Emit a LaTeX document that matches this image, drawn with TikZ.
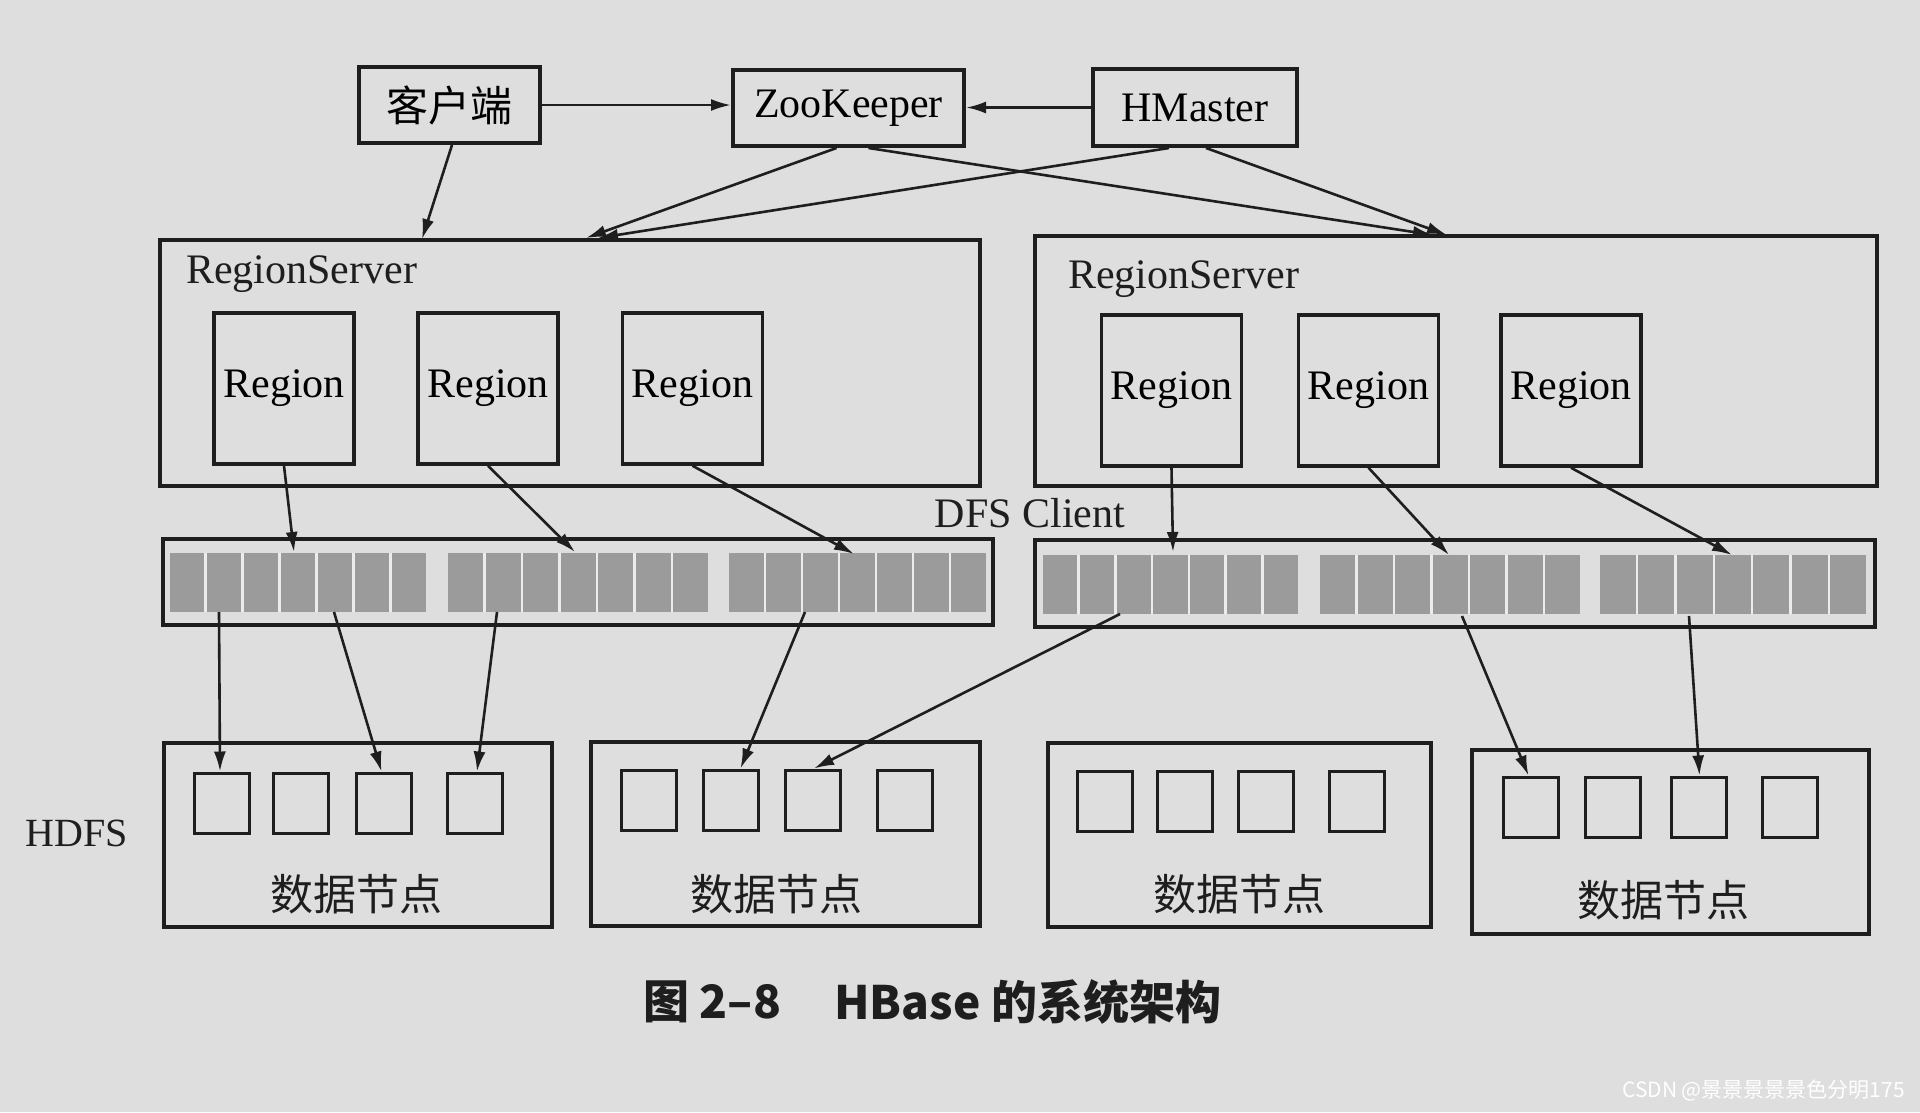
\documentclass[tikz,border=0pt]{standalone}
\usepackage{fontspec}
\setmainfont{Liberation Serif}
\newfontfamily\cjk{Noto Sans CJK SC}
\usetikzlibrary{arrows.meta,calc}
\definecolor{bgc}{RGB}{222,222,222}
\definecolor{ink}{RGB}{30,30,30}
\definecolor{blockgray}{RGB}{155,155,155}
\definecolor{gapc}{RGB}{236,236,236}
\newcommand\grayblocks[4]{%
  \fill[gapc] (#1,#3) rectangle (#2,#4);
  \pgfmathsetmacro\bw{(#2-#1-6*2.5)/7}%
  \foreach \i in {0,...,6}{%
    \fill[blockgray] ({#1+\i*(\bw+2.5)},#3) rectangle ++({\bw},{#4-#3});
  }}
\begin{document}
\begin{tikzpicture}[x=1pt,y=-1pt,
  bx/.style={draw=ink, line width=4pt, inner sep=0pt, font=\fontsize{42}{48}\selectfont},
  regbox/.style={bx, line width=3.5pt, minimum width=140pt, minimum height=151pt},
  band/.style={draw=ink, line width=4pt, inner sep=0pt},
  dnbox/.style={draw=ink, line width=4pt, inner sep=0pt, minimum height=184pt},
  sbox/.style={draw=ink, line width=3pt, inner sep=0pt, minimum width=55pt, minimum height=60pt},
  lbl/.style={inner sep=0pt, text=ink, font=\fontsize{42}{48}\selectfont},
  cjklbl/.style={inner sep=0pt, text=ink, font=\cjk\fontsize{43}{48}\selectfont},
  arr/.style={draw=ink, line width=2.6pt, -{Latex[length=20pt,width=12pt]}}
]
\fill[bgc] (0,0) rectangle (1920,1112);
\useasboundingbox (0,0) rectangle (1920,1112);

% top boxes
\node[bx, minimum width=181pt, minimum height=76pt] (client) at (449.5,105) {\cjk 客户端};
\node[bx, minimum width=231pt, minimum height=76pt] (zk) at (848.5,108) {ZooKeeper};
\node[bx, minimum width=204pt, minimum height=77pt] (hm) at (1195,107.5) {HMaster};

% region servers
\node[bx, minimum width=820pt, minimum height=246pt] (rsL) at (570,363) {};
\node[bx, minimum width=842pt, minimum height=250pt] (rsR) at (1456,361) {};
\node[lbl, anchor=west] (rsLt) at (186,274) {RegionServer};
\node[lbl, anchor=west] (rsRt) at (1068,279) {RegionServer};

\node[regbox] (rL1) at (284,388.5) {Region};
\node[regbox] (rL2) at (488,388.5) {Region};
\node[regbox] (rL3) at (692.5,388.5) {Region};
\node[regbox] (rR1) at (1171.5,390.5) {Region};
\node[regbox] (rR2) at (1368.5,390.5) {Region};
\node[regbox] (rR3) at (1571,390.5) {Region};

% DFS client bands
\node[lbl] (dfs) at (1030,513) {DFS Client};
\grayblocks{170}{426}{553}{612}
\grayblocks{448}{708}{553}{612}
\grayblocks{729}{986}{553}{612}
\grayblocks{1043}{1298}{555}{614}
\grayblocks{1320}{1580}{555}{614}
\grayblocks{1600}{1866}{555}{614}
\node[band, minimum width=830pt, minimum height=86pt] (bandL) at (578,582) {};
\node[band, minimum width=840pt, minimum height=87pt] (bandR) at (1455,583.5) {};

% HDFS
\node[lbl, font=\fontsize{40}{46}\selectfont] (hdfs) at (77,833) {HDFS};
\node[dnbox, minimum width=388pt] (dn1) at (358,835) {};
\node[dnbox, minimum width=389pt] (dn2) at (785.5,833.5) {};
\node[dnbox, minimum width=383pt] (dn3) at (1239.5,835) {};
\node[dnbox, minimum width=397pt] (dn4) at (1670.5,841.5) {};
\node[cjklbl] (t1) at (356,894) {数据节点};
\node[cjklbl] (t2) at (776,894) {数据节点};
\node[cjklbl] (t3) at (1239,894) {数据节点};
\node[cjklbl] (t4) at (1663,900) {数据节点};

\node[sbox] (s11) at (222,803) {};
\node[sbox] (s12) at (300.5,803) {};
\node[sbox] (s13) at (383.5,803) {};
\node[sbox] (s14) at (475,803) {};
\node[sbox] (s21) at (649,800) {};
\node[sbox] (s22) at (730.5,800) {};
\node[sbox] (s23) at (813,800) {};
\node[sbox] (s24) at (904.5,800) {};
\node[sbox] (s31) at (1104.5,801) {};
\node[sbox] (s32) at (1184.5,801) {};
\node[sbox] (s33) at (1266,801) {};
\node[sbox] (s34) at (1356.5,801) {};
\node[sbox] (s41) at (1530.5,807) {};
\node[sbox] (s42) at (1612.5,807) {};
\node[sbox] (s43) at (1698.5,807) {};
\node[sbox] (s44) at (1789.5,807) {};

% arrow end points
\coordinate (tcL) at (422,239);
\coordinate (tzL) at (586,238);
\coordinate (thL) at (598,238);
\coordinate (tzR) at (1433,235);
\coordinate (thR) at (1447,235);
\coordinate (b1) at (294,552);
\coordinate (b2) at (575,552);
\coordinate (b3) at (854,554);
\coordinate (b4) at (1173,552);
\coordinate (b5) at (1449,555);
\coordinate (b6) at (1732,555);
\coordinate (g1) at (219,612);
\coordinate (g2) at (334,612);
\coordinate (g3) at (497,612);
\coordinate (g4) at (805,612);
\coordinate (g5) at (1120,614);
\coordinate (g6) at (1462,616);
\coordinate (g7) at (1689,616);

% arrows
\draw[arr] (client.east) -- (zk.west |- client.east);
\draw[arr] (hm.west) -- (zk.east |- hm.west);
\draw[arr] ($(client.south)+(2.5,0)$) -- (tcL);
\draw[arr] ($(zk.south)+(-12,0)$) -- (tzL);
\draw[arr] ($(hm.south)+(-26,0)$) -- (thL);
\draw[arr] ($(zk.south)+(20,0)$) -- (tzR);
\draw[arr] ($(hm.south)+(11,0)$) -- (thR);

\draw[arr] (rL1.south) -- (b1);
\draw[arr] (rL2.south) -- (b2);
\draw[arr] (rL3.south) -- (b3);
\draw[arr] (rR1.south) -- (b4);
\draw[arr] (rR2.south) -- (b5);
\draw[arr] (rR3.south) -- (b6);

\draw[arr] (g1) -- ($(s11.north)+(-2,0)$);
\draw[arr] (g2) -- ($(s13.north)+(-2,0)$);
\draw[arr] (g3) -- ($(s14.north)+(2,0)$);
\draw[arr] (g4) -- ($(s22.north)+(10,0)$);
\draw[arr] (g5) -- ($(s23.north)+(1,0)$);
\draw[arr] (g6) -- ($(s41.north)+(-2,0)$);
\draw[arr] (g7) -- ($(s43.north)+(1,0)$);

% caption
\node[inner sep=0pt, anchor=west, text=ink, font=\cjk\bfseries\fontsize{46}{52}\selectfont] (cap1) at (643,1002) {图 2–8};
\node[inner sep=0pt, anchor=west, text=ink, font=\cjk\bfseries\fontsize{46}{52}\selectfont] (cap2) at (834,1002) {HBase 的系统架构};
\node[inner sep=0pt, anchor=east, text=white, font=\cjk\fontsize{21}{24}\selectfont] (wm) at (1905,1090) {CSDN @景景景景景色分明175};
\end{tikzpicture}
\end{document}
